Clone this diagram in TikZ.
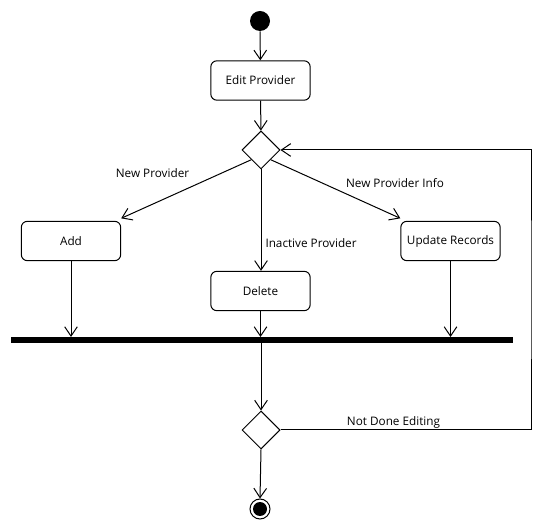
\documentclass[tikz,border=0pt]{standalone}
\usepackage{fontspec}
\setmainfont{Open Sans}
\usetikzlibrary{shapes.geometric,arrows.meta}
\begin{document}
\begin{tikzpicture}[x=0.75pt,y=-0.75pt,
  font=\fontsize{8.8}{10.5}\selectfont,
  line width=0.75pt,
  activity/.style={draw,rounded corners=4.5pt,minimum width=74.5pt,minimum height=29.5pt,inner sep=2pt},
  decision/.style={draw,diamond,minimum width=28.5pt,minimum height=28.5pt,inner sep=0pt},
  flow/.style={-{Straight Barb[length=7pt,width=9.5pt]}},
  guard/.style={inner sep=0pt}]
  \useasboundingbox (0,0) rectangle (560,530);

  % initial and final states
  \node[circle,fill=black,minimum size=15pt,inner sep=0pt] (start) at (260,21) {};
  \node[circle,draw,minimum size=15pt,inner sep=0pt] (final) at (260,509) {};
  \node[circle,fill=black,minimum size=10.5pt,inner sep=0pt] (finaldot) at (final.center) {};

  % actions
  \node[activity] (edit) at (260.5,80.5) {Edit Provider};
  \node[activity] (add) at (71,241) {Add};
  \node[activity] (delete) at (260.5,291) {Delete};
  \node[activity] (update) at (450.5,241) {Update Records};

  % decisions
  \node[decision] (choice) at (261,150) {};
  \node[decision] (done) at (261,430) {};

  % join bar
  \node[fill=black,minimum width=376.5pt,minimum height=3.8pt,inner sep=0pt] (join) at (262,340) {};

  % guards
  \node[guard] (gnew) at (152.5,173) {New Provider};
  \node[guard] (ginfo) at (395,183.5) {New Provider Info};
  \node[guard,anchor=west] (ginactive) at (265,243.5) {Inactive Provider};
  \node[guard] (gmore) at (393.5,422.5) {Not Done Editing};

  % flows
  \draw[flow] (start) -- (edit);
  \draw[flow] (edit) -- (choice);
  \draw[flow] (choice.south west) -- ([shift={(0,-2.5)}]add.north east);
  \draw[flow] (choice.south east) -- ([shift={(0,-2.5)}]update.north west);
  \draw[flow] (choice.south) -- (choice |- delete.north);
  \draw[flow] (add.south) -- (add.south |- join.north);
  \draw[flow] (delete.south) -- (delete.south |- join.north);
  \draw[flow] (update.south) -- (update.south |- join.north);
  \draw[flow] (done |- join.south) -- (done.north);
  \draw[flow] (done.south) -- (final.north);
  \coordinate (loop) at (531,290);
  \draw[flow] (done.east) -| (loop) |- (choice.east);
\end{tikzpicture}
\end{document}
